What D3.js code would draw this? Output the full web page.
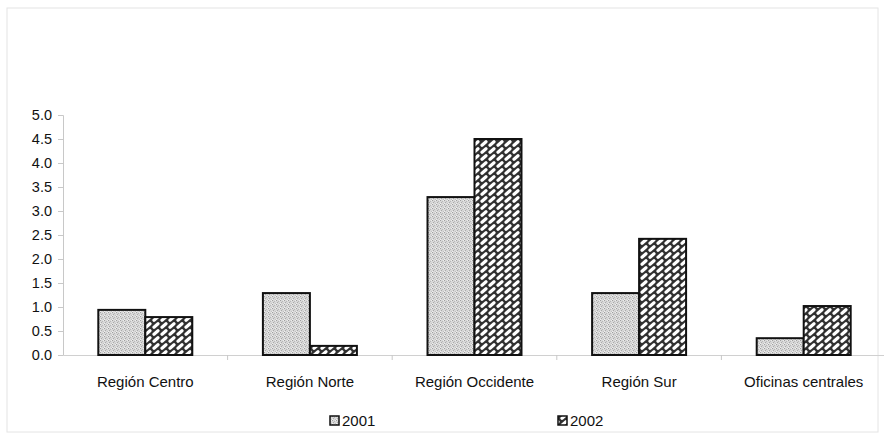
<!DOCTYPE html>
<html><head><meta charset="utf-8">
<script src="https://cdn.jsdelivr.net/npm/d3@7"></script>
<style>body{margin:0;background:#fff}svg{display:block}text{font-family:"Liberation Sans",Arial,sans-serif;fill:#111}</style>
</head><body><svg id="c" width="884" height="437"></svg>
<script>
const categories = ["Región Centro","Región Norte","Región Occidente","Región Sur","Oficinas centrales"];
const seriesNames = ["2001","2002"];
const values2001 = [0.94, 1.29, 3.29, 1.29, 0.35];
const values2002 = [0.79, 0.19, 4.5, 2.42, 1.02];
const yTicks = [0,0.5,1,1.5,2,2.5,3,3.5,4,4.5,5];

const svg = d3.select("#c");
const defs = svg.append("defs");
// stipple pattern for 2001
const p1 = defs.append("pattern").attr("id","stip").attr("patternUnits","userSpaceOnUse").attr("width",4).attr("height",4);
p1.append("rect").attr("width",4).attr("height",4).attr("fill","#d8d8d8");
[[0,0,"#a0a0a0"],[2,1,"#b8b8b8"],[1,2,"#aaaaaa"],[3,3,"#c0c0c0"],[3,0,"#ececec"],[0,3,"#efefef"]].forEach(([x,y,c])=>
  p1.append("rect").attr("x",x).attr("y",y).attr("width",1).attr("height",1).attr("fill",c));
// hatch pattern for 2002
const p2 = defs.append("pattern").attr("id","hatch").attr("patternUnits","userSpaceOnUse").attr("width",8).attr("height",7);
p2.append("rect").attr("width",8).attr("height",7).attr("fill","#303030");
p2.append("line").attr("x1",2).attr("y1",5.2).attr("x2",6).attr("y2",1.8).attr("stroke","#fff").attr("stroke-width",3.2).attr("stroke-linecap","round");

// faint chart border
svg.append("rect").attr("x",7).attr("y",8).attr("width",871).attr("height",424)
  .attr("fill","none").attr("stroke","#e4e4e4").attr("stroke-width",1);

const x = d3.scaleBand().domain(categories).range([63,886]).paddingInner(0.429).paddingOuter(0.2145);
const xs = d3.scaleBand().domain(seriesNames).range([0,x.bandwidth()]);
const y = d3.scaleLinear().domain([0,5]).range([355,115]);

// y axis
const yAxis = svg.append("g").attr("transform","translate(63,0)")
  .call(d3.axisLeft(y).tickValues(yTicks).tickFormat(d3.format(".1f")).tickSize(5).tickPadding(6));
yAxis.select(".domain").attr("stroke","#c8c8c8");
yAxis.selectAll(".tick line").attr("stroke","#c8c8c8");
yAxis.selectAll("text").style("font-size","14.5px").attr("fill","#111");

// x axis
const xAxis = svg.append("g").attr("transform","translate(0,355)")
  .call(d3.axisBottom(x).tickSize(0).tickPadding(21).tickSizeOuter(0));
xAxis.select(".domain").attr("stroke","#d0d0d0");
xAxis.selectAll("text").style("font-size","15px").attr("fill","#111");
// category boundary ticks
svg.append("g").selectAll("line").data(categories.slice(1)).join("line")
  .attr("x1",d=>x(d)-x.step()*x.paddingInner()/2).attr("x2",d=>x(d)-x.step()*x.paddingInner()/2)
  .attr("y1",355).attr("y2",360).attr("stroke","#c8c8c8");

const data = categories.map((c,i)=>({c, v:[values2001[i], values2002[i]]}));
const fills = ["url(#stip)","url(#hatch)"];
const g = svg.append("g");
data.forEach(d=>{
  seriesNames.forEach((s,j)=>{
    g.append("rect").attr("x",x(d.c)+xs(s)).attr("y",y(d.v[j]))
      .attr("width",xs.bandwidth()).attr("height",y(0)-y(d.v[j]))
      .attr("fill",fills[j]).attr("stroke","#111").attr("stroke-width",2);
  });
});

// legend
const legX = [330, 558];
const leg = svg.append("g");
seriesNames.forEach((s,j)=>{
  leg.append("rect").attr("x",legX[j]).attr("y",416).attr("width",9).attr("height",9)
    .attr("fill",fills[j]).attr("stroke","#111").attr("stroke-width",1.5);
  leg.append("text").attr("x",legX[j]+12).attr("y",426).style("font-size","15px").text(s);
});
</script></body></html>
